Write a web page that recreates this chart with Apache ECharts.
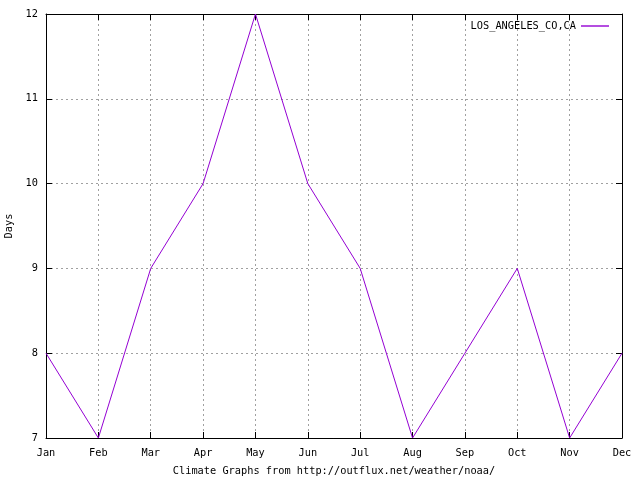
<!DOCTYPE html>
<html><head><meta charset="utf-8">
<script src="https://cdn.jsdelivr.net/npm/echarts@6/dist/echarts.min.js"></script>
<style>html,body{margin:0;padding:0;background:#fff}#c{width:640px;height:480px}</style>
</head><body><div id="c"></div>
<script>
const months = ['Jan','Feb','Mar','Apr','May','Jun','Jul','Aug','Sep','Oct','Nov','Dec'];
const seriesName = 'LOS_ANGELES_CO,CA';
const days = [8, 7, 9, 10, 12, 10, 9, 7, 8, 9, 7, 8];
const yMin = 7, yMax = 12, yStep = 1;
const FONT = 'DejaVu Sans Mono';
const FS = 10.3;
const chart = echarts.init(document.getElementById('c'), null, {renderer:'canvas'});
const axLine = {show:true, lineStyle:{color:'#000', width:1}};
const grid = {show:true, lineStyle:{color:'#a0a0a0', type:[2,3], width:1}};
chart.setOption({
  animation:false,
  backgroundColor:'#fff',
  textStyle:{fontFamily:FONT},
  grid:{left:46, right:18, top:14, bottom:42, containLabel:false, outerBoundsMode:'none'},
  legend:{
    right:26, top:16, orient:'horizontal', align:'right',
    icon:'path://M0,0 L1,0 L1,0.05 L0,0.05 Z',
    itemWidth:28, itemHeight:2, itemGap:7,
    textStyle:{fontFamily:FONT, fontSize:FS, color:'#000'},
    data:[{name:seriesName}]
  },
  xAxis:[{
    type:'category', data:months, boundaryGap:false,
    axisLine:axLine, axisTick:{show:true, inside:true, length:6, lineStyle:{color:'#000'}},
    axisLabel:{fontFamily:FONT, fontSize:FS, color:'#000', margin:10},
    splitLine:grid,
    name:'Climate Graphs from http://outflux.net/weather/noaa/',
    nameLocation:'middle', nameGap:28,
    nameTextStyle:{fontFamily:FONT, fontSize:FS, color:'#000'}
  },{
    type:'category', data:months, boundaryGap:false, position:'top',
    axisLine:axLine, axisTick:{show:true, inside:true, length:6, lineStyle:{color:'#000'}},
    axisLabel:{show:false}, splitLine:{show:false}
  }],
  yAxis:[{
    type:'value', min:yMin, max:yMax, interval:yStep,
    axisLine:axLine, axisTick:{show:true, inside:true, length:6, lineStyle:{color:'#000'}},
    axisLabel:{fontFamily:FONT, fontSize:FS, color:'#000', margin:8},
    splitLine:grid,
    name:'Days', nameLocation:'middle', nameGap:31, nameRotate:90,
    nameTextStyle:{fontFamily:FONT, fontSize:FS, color:'#000'}
  },{
    type:'value', min:yMin, max:yMax, interval:yStep, position:'right',
    axisLine:axLine, axisTick:{show:true, inside:true, length:6, lineStyle:{color:'#000'}},
    axisLabel:{show:false}, splitLine:{show:false}
  }],
  series:[{
    name:seriesName, type:'line', data:days, symbol:'none',
    lineStyle:{color:'#9400d3', width:1}, itemStyle:{color:'#9400d3'}
  }]
});
</script></body></html>
